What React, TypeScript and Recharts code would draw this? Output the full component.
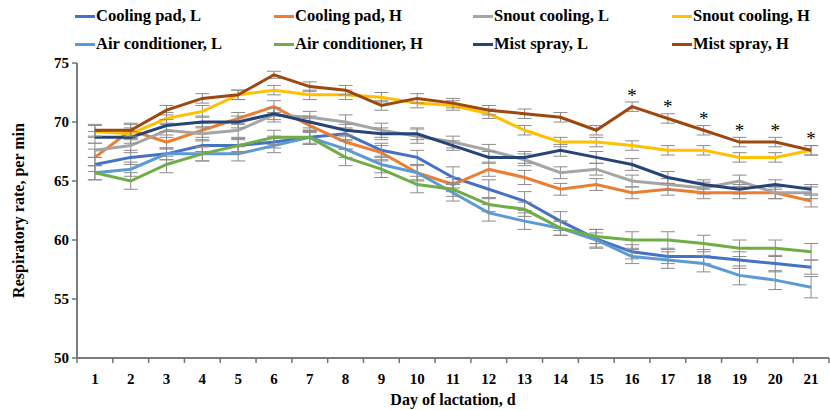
import { ErrorBar, LabelList, Line, LineChart, ReferenceLine, XAxis, YAxis } from "recharts";

const days = [1, 2, 3, 4, 5, 6, 7, 8, 9, 10, 11, 12, 13, 14, 15, 16, 17, 18, 19, 20, 21];

const coolingPadL = [66.4, 67.0, 67.3, 68.0, 68.0, 68.3, 68.7, 69.0, 67.6, 67.0, 65.3, 64.3, 63.3, 61.6, 60.1, 59.0, 58.6, 58.6, 58.3, 58.0, 57.7];
const coolingPadH = [67.0, 69.3, 68.3, 69.3, 70.3, 71.3, 69.7, 68.3, 67.4, 65.7, 64.7, 66.0, 65.3, 64.3, 64.7, 64.0, 64.3, 64.0, 64.0, 64.0, 63.3];
const snoutL = [67.6, 68.0, 69.3, 69.0, 69.3, 70.6, 70.4, 70.0, 69.3, 68.8, 68.3, 67.6, 66.8, 65.7, 66.0, 65.0, 64.7, 64.4, 65.0, 64.0, 64.0];
const snoutH = [69.2, 69.0, 70.3, 70.9, 72.3, 72.7, 72.3, 72.3, 72.1, 71.6, 71.4, 70.7, 69.3, 68.3, 68.3, 68.0, 67.6, 67.6, 67.0, 67.0, 67.6];
const airL = [65.7, 66.0, 67.3, 67.3, 67.3, 68.0, 68.7, 67.7, 66.4, 65.7, 64.0, 62.3, 61.6, 61.0, 60.0, 58.6, 58.3, 58.0, 57.0, 56.6, 56.0];
const airH = [65.7, 65.0, 66.4, 67.3, 68.0, 68.7, 68.7, 67.0, 66.0, 64.7, 64.3, 63.0, 62.6, 61.0, 60.3, 60.0, 60.0, 59.7, 59.3, 59.3, 59.0];
const mistL = [68.7, 68.7, 69.7, 70.0, 70.0, 70.7, 70.0, 69.3, 69.0, 69.0, 68.0, 67.0, 67.0, 67.6, 67.0, 66.4, 65.3, 64.7, 64.3, 64.7, 64.3];
const mistH = [69.3, 69.3, 71.0, 72.0, 72.3, 74.0, 73.0, 72.7, 71.4, 72.0, 71.6, 71.0, 70.7, 70.4, 69.3, 71.3, 70.3, 69.3, 68.3, 68.3, 67.6];

// standard errors (approx.)
const coolingPadLErr = [0.6, 0.6, 0.5, 0.5, 0.5, 0.5, 0.5, 0.5, 0.6, 0.6, 0.9, 0.8, 0.8, 0.8, 0.8, 0.6, 0.6, 0.6, 0.7, 0.7, 0.6];
const coolingPadHErr = [0.7, 0.6, 0.6, 0.6, 0.5, 0.5, 0.6, 0.6, 0.6, 0.6, 0.6, 0.6, 0.6, 0.5, 0.5, 0.5, 0.5, 0.5, 0.5, 0.5, 0.5];
const snoutLErr = [0.6, 0.6, 0.6, 0.6, 0.6, 0.6, 0.5, 0.6, 0.6, 0.6, 0.5, 0.5, 0.5, 0.5, 0.5, 0.5, 0.5, 0.5, 0.5, 0.5, 0.5];
const snoutHErr = [0.5, 0.5, 0.5, 0.5, 0.4, 0.4, 0.4, 0.4, 0.4, 0.4, 0.4, 0.4, 0.4, 0.4, 0.4, 0.4, 0.4, 0.4, 0.4, 0.4, 0.4];
const airLErr = [0.6, 0.6, 0.5, 0.6, 0.6, 0.6, 0.6, 0.7, 0.7, 0.7, 0.7, 0.7, 0.7, 0.6, 0.6, 0.6, 0.7, 0.7, 0.8, 0.8, 0.9];
const airHErr = [0.6, 0.7, 0.7, 0.6, 0.6, 0.6, 0.6, 0.7, 0.7, 0.7, 0.6, 0.6, 0.6, 0.6, 0.6, 0.7, 0.7, 0.7, 0.7, 0.7, 0.7];
const mistLErr = [0.5, 0.5, 0.5, 0.5, 0.5, 0.5, 0.5, 0.5, 0.5, 0.5, 0.4, 0.5, 0.5, 0.5, 0.5, 0.5, 0.5, 0.4, 0.4, 0.4, 0.4];
const mistHErr = [0.5, 0.5, 0.4, 0.4, 0.4, 0.3, 0.4, 0.4, 0.4, 0.4, 0.4, 0.4, 0.4, 0.4, 0.4, 0.4, 0.4, 0.4, 0.4, 0.4, 0.4];

const significance = ["", "", "", "", "", "", "", "", "", "", "", "", "", "", "", "*", "*", "*", "*", "*", "*"];

const yTicks = [50, 55, 60, 65, 70, 75];

const series = [
  { key: "cpL", name: "Cooling pad, L", color: "#4472C4", values: coolingPadL, err: coolingPadLErr },
  { key: "cpH", name: "Cooling pad, H", color: "#ED7D31", values: coolingPadH, err: coolingPadHErr },
  { key: "scL", name: "Snout cooling, L", color: "#A5A5A5", values: snoutL, err: snoutLErr },
  { key: "scH", name: "Snout cooling, H", color: "#FFC000", values: snoutH, err: snoutHErr },
  { key: "acL", name: "Air conditioner, L", color: "#5B9BD5", values: airL, err: airLErr },
  { key: "acH", name: "Air conditioner, H", color: "#70AD47", values: airH, err: airHErr },
  { key: "msL", name: "Mist spray, L", color: "#264478", values: mistL, err: mistLErr },
  { key: "msH", name: "Mist spray, H", color: "#9E480E", values: mistH, err: mistHErr },
];

const data = days.map((day, i) => {
  const row: Record<string, number | string> = { day, sig: significance[i] };
  series.forEach((s) => {
    row[s.key] = s.values[i];
    row[s.key + "Err"] = s.err[i];
  });
  return row;
});

// day labels at the centres, tick marks on the category boundaries (Excel style)
const xTicks = [0.5, ...days.flatMap((d) => [d, d + 0.5])];

const FONT = '"Liberation Serif", "Times New Roman", serif';
const AXIS_GRAY = "#737373";
const legendCols = [75, 274, 473, 672];
const legendRows = [16, 44];

function Legend() {
  return (
    <>
      {series.map((s, i) => (
        <div
          key={s.key}
          style={{
            position: "absolute",
            left: legendCols[i % 4],
            top: legendRows[Math.floor(i / 4)] - 10,
            height: 20,
            display: "flex",
            alignItems: "center",
            fontFamily: FONT,
            fontWeight: "bold",
            fontSize: 16.5,
            color: "#000",
            whiteSpace: "nowrap",
          }}
        >
          <span style={{ display: "inline-block", width: 20, height: 3, background: s.color, marginRight: 1 }} />
          {s.name}
        </div>
      ))}
    </>
  );
}

const DayTick = (props: any) => {
  const { x, y, payload } = props;
  const v = payload.value;
  if (!Number.isInteger(v)) {
    const top = y - 15;
    return <line x1={x} x2={x} y1={top} y2={top + 5} stroke={AXIS_GRAY} strokeWidth={1.5} />;
  }
  return (
    <text x={x} y={y} dy={11} textAnchor="middle" fontFamily={FONT} fontWeight="bold" fontSize={15} fill="#000">
      {v}
    </text>
  );
};

const renderStar = (props: any) => {
  const { x, y, value } = props;
  if (!value) return null;
  return (
    <text x={x} y={y - 5} textAnchor="middle" fontFamily={FONT} fontSize={19} fill="#000">
      {value}
    </text>
  );
};

export default function App() {
  return (
    <div style={{ position: "absolute", left: 0, top: 0, width: 830, height: 410, overflow: "hidden", background: "#fff" }}>
      <Legend />
      <LineChart width={830} height={410} data={data} margin={{ top: 63, right: 1, left: 0, bottom: 0 }}>
        <XAxis
          dataKey="day"
          type="number"
          domain={[0.5, 21.5]}
          ticks={xTicks}
          interval={0}
          height={52}
          stroke={AXIS_GRAY}
          axisLine={{ stroke: AXIS_GRAY, strokeWidth: 1.5 }}
          tickLine={false}
          tickSize={6}
          tickMargin={9}
          tick={DayTick}
          label={{
            value: "Day of lactation, d",
            position: "insideBottom",
            offset: 5,
            style: { fontFamily: FONT, fontWeight: "bold", fontSize: 16, fill: "#000" },
          }}
        />
        <YAxis
          domain={[50, 75]}
          ticks={yTicks}
          width={77}
          stroke={AXIS_GRAY}
          tickSize={5}
          tickMargin={3}
          axisLine={{ stroke: AXIS_GRAY, strokeWidth: 1.5 }}
          tickLine={{ stroke: AXIS_GRAY, strokeWidth: 1.5 }}
          tick={{ fontFamily: FONT, fontWeight: "bold", fontSize: 15, fill: "#000" }}
          label={{
            value: "Respiratory rate, per min",
            angle: -90,
            position: "center",
            dx: -20,
            style: { fontFamily: FONT, fontWeight: "bold", fontSize: 16, fill: "#000" },
          }}
        />
        <ReferenceLine y={50} stroke={AXIS_GRAY} strokeWidth={1.5} />
        <ReferenceLine x={0.5} stroke={AXIS_GRAY} strokeWidth={1.5} />
        {series.map((s) => (
          <Line
            key={s.key}
            dataKey={s.key}
            name={s.name}
            stroke={s.color}
            strokeWidth={3}
            dot={false}
            activeDot={false}
            isAnimationActive={false}
          >
            <ErrorBar dataKey={s.key + "Err"} direction="y" width={7} stroke="#8c8c8c" strokeWidth={1} />
            {s.key === "msH" && <LabelList dataKey="sig" content={renderStar} />}
          </Line>
        ))}
      </LineChart>
    </div>
  );
}
